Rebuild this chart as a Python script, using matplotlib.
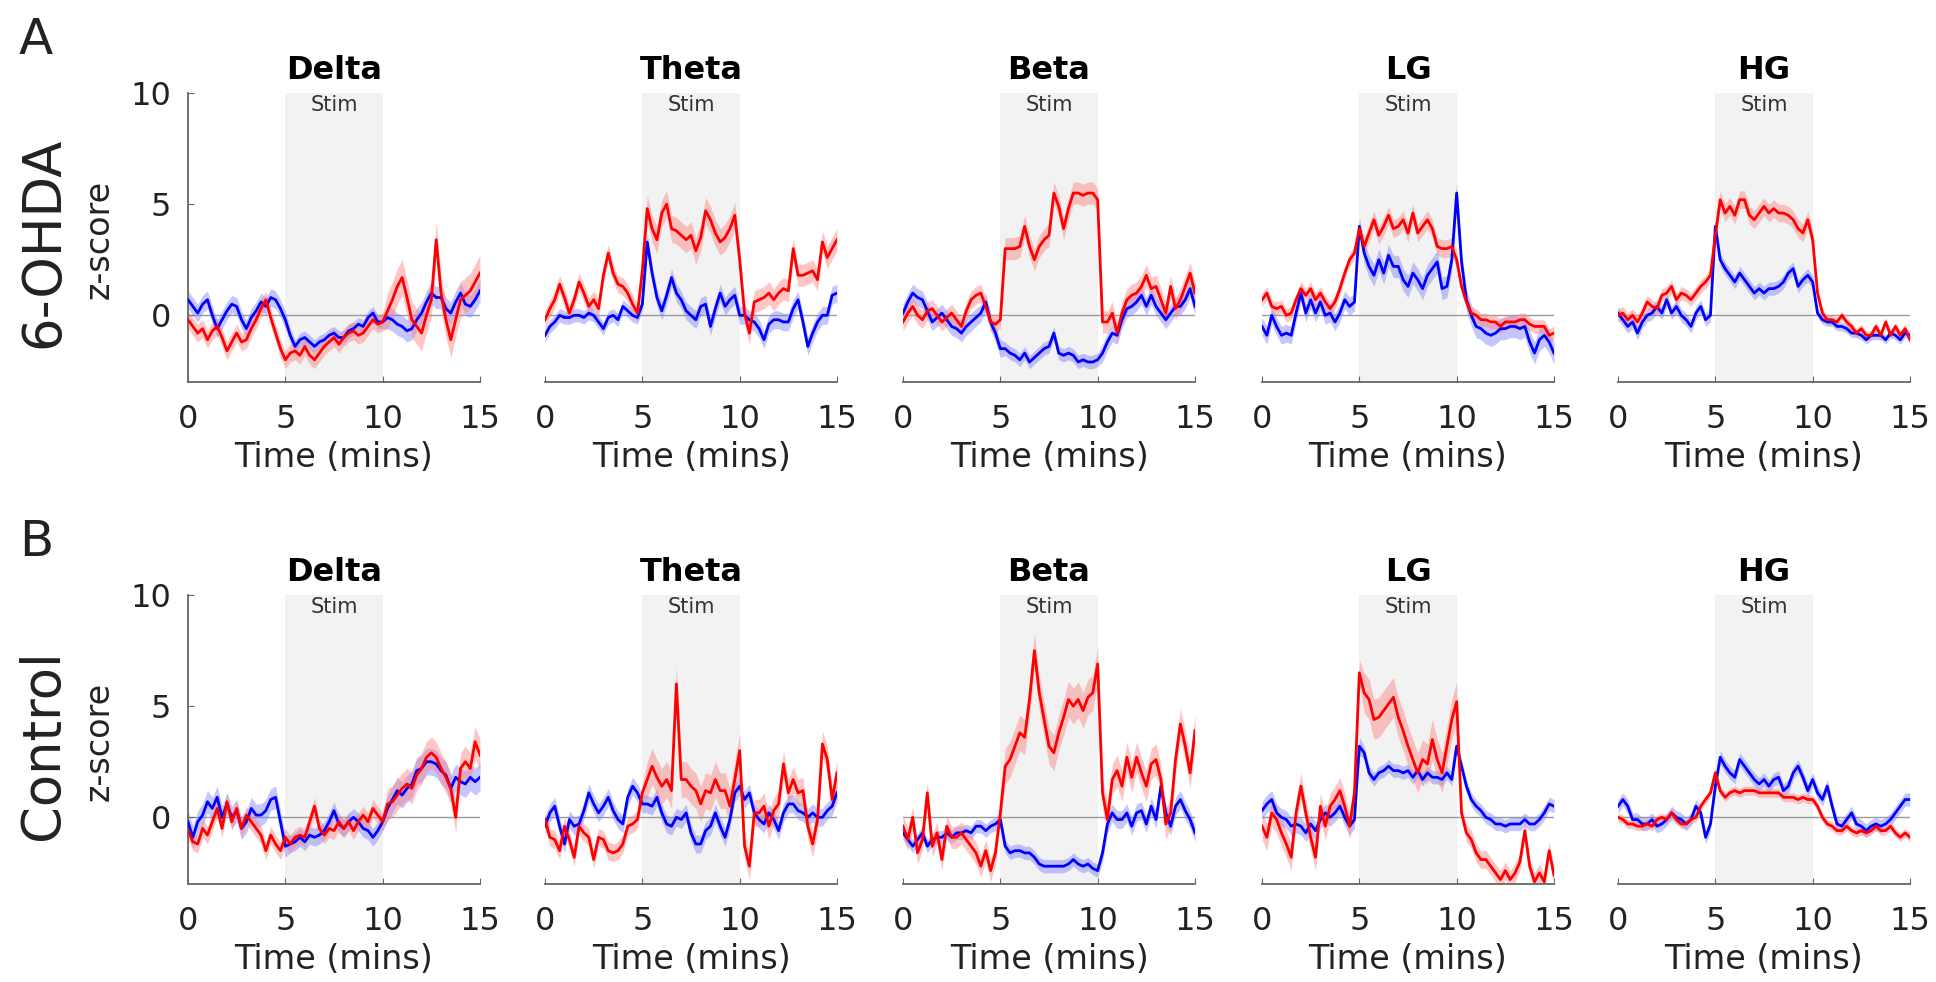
import numpy as np
import matplotlib.pyplot as plt

# Band names and group labels
bands = ['Delta', 'Theta', 'Beta', 'LG', 'HG']
groups = ['6-OHDA', 'Control']
panel_tags = ['A', 'B']

# z-score traces, one value every 15 s from 0 to 15 min (61 points)
# 6-OHDA
ohda_delta_red = [-0.2, -0.5, -0.8, -0.6, -1.1, -0.7, -0.5, -1.0, -1.6, -1.2, -0.8, -1.2, -1.1, -0.6, -0.2, 0.3, 0.7, -0.1, -0.8, -1.5,
                  -2.0, -1.7, -1.6, -1.8, -1.4, -1.8, -2.0, -1.7, -1.4, -1.2, -1.0, -1.3, -1.0, -0.8, -0.7, -0.9, -0.8, -0.5, -0.2, -0.4,
                  -0.3, 0.2, 0.7, 1.3, 1.7, 0.8, -0.2, -0.5, -0.8, 0.0, 0.7, 3.4, 1.0, -0.2, -1.1, -0.2, 0.7, 0.9, 1.1, 1.5, 1.9]
ohda_delta_blue = [0.7, 0.4, 0.1, 0.5, 0.7, 0.0, -0.6, -0.2, 0.2, 0.5, 0.4, -0.2, -0.6, -0.1, 0.2, 0.6, 0.4, 0.8, 0.7, 0.3,
                   -0.2, -0.9, -1.4, -1.1, -1.0, -1.2, -1.4, -1.2, -1.1, -0.9, -0.8, -1.0, -1.0, -0.7, -0.6, -0.4, -0.5, -0.1, 0.1, -0.3,
                   -0.3, -0.1, -0.2, -0.4, -0.5, -0.7, -0.6, -0.2, 0.1, 0.6, 1.0, 0.8, 0.8, 0.3, 0.1, 0.6, 1.0, 0.5, 0.4, 0.7, 1.1]
ohda_theta_red = [-0.2, 0.3, 0.7, 1.4, 0.8, 0.1, 0.7, 1.5, 1.0, 0.4, 0.7, 0.3, 1.8, 2.8, 1.9, 1.4, 1.3, 1.0, 0.5, 0.1,
                  2.0, 4.8, 3.9, 3.4, 4.6, 5.0, 3.9, 3.8, 3.6, 3.4, 3.6, 2.9, 3.5, 4.7, 4.3, 3.7, 3.3, 3.5, 3.9, 4.5,
                  2.5, 0.1, -0.8, 0.6, 0.7, 0.8, 1.0, 0.7, 1.0, 1.2, 1.1, 3.0, 1.8, 1.8, 1.9, 2.0, 1.6, 3.3, 2.6, 3.0, 3.4]
ohda_theta_blue = [-0.9, -0.5, -0.3, 0.0, -0.1, -0.1, 0.0, 0.0, -0.1, 0.1, 0.0, -0.3, -0.6, -0.1, 0.0, -0.2, 0.4, 0.2, 0.0, -0.1,
                   0.5, 3.3, 1.9, 0.8, 0.2, 0.9, 1.7, 1.0, 0.7, 0.2, 0.0, -0.2, 0.4, 0.5, -0.5, 0.3, 1.0, 0.4, 0.7, 0.9,
                   0.0, 0.0, -0.2, -0.3, -0.6, -1.1, -0.4, -0.2, -0.2, -0.3, -0.3, 0.3, 0.7, -0.3, -1.4, -0.8, -0.3, 0.0, 0.0, 0.9, 1.0]
ohda_beta_red = [-0.3, 0.1, 0.4, 0.0, -0.2, 0.2, 0.3, 0.0, -0.3, -0.1, 0.1, -0.2, -0.5, 0.2, 0.7, 0.9, 1.0, 0.4, -0.3, -0.4,
                 -0.2, 3.0, 3.0, 3.0, 3.1, 4.0, 3.1, 2.5, 3.1, 3.4, 3.6, 5.5, 4.9, 3.9, 4.8, 5.5, 5.5, 5.4, 5.5, 5.5,
                 5.2, -0.3, -0.3, 0.1, -0.8, 0.1, 0.7, 0.9, 1.0, 1.3, 1.8, 1.2, 1.3, 0.7, 0.1, 1.3, 0.3, 0.7, 1.3, 1.9, 1.0]
ohda_beta_blue = [0.1, 0.6, 1.0, 0.8, 0.7, 0.2, -0.3, -0.1, 0.1, -0.2, -0.5, -0.6, -0.8, -0.5, -0.3, -0.1, 0.1, 0.6, -0.3, -0.8,
                  -1.5, -1.5, -1.7, -1.8, -2.0, -1.7, -2.1, -1.9, -1.7, -1.5, -1.4, -0.8, -1.7, -1.8, -1.7, -1.8, -2.1, -2.0, -2.1, -2.1,
                  -2.0, -1.7, -1.2, -0.8, -0.9, -0.2, 0.3, 0.4, 0.6, 0.9, 0.4, 0.9, 0.4, 0.1, -0.2, 0.1, 0.4, 0.4, 0.7, 1.2, 0.4]
ohda_lg_red = [0.7, 1.0, 0.4, 0.3, 0.4, 0.0, 0.1, 0.7, 1.2, 0.9, 1.2, 0.7, 1.0, 0.6, 0.3, 0.6, 1.2, 1.9, 2.5, 2.8,
               3.9, 3.1, 3.7, 4.3, 3.6, 4.0, 4.5, 3.9, 4.0, 4.3, 3.7, 4.6, 3.7, 4.0, 4.3, 3.9, 3.1, 3.0, 3.0, 3.1,
               2.5, 1.3, 0.6, 0.1, 0.0, -0.2, -0.2, -0.3, -0.3, -0.5, -0.3, -0.3, -0.3, -0.2, -0.2, -0.4, -0.5, -0.5, -0.5, -0.9, -0.8]
ohda_lg_blue = [-0.5, -0.9, 0.0, -0.5, -0.9, -0.8, -0.9, 0.1, 1.0, 0.1, 0.7, 0.1, 0.6, 0.0, 0.1, -0.3, 0.1, 0.7, 0.4, 0.6,
                4.0, 2.8, 2.2, 1.8, 2.5, 1.9, 2.7, 2.2, 2.2, 1.6, 1.3, 1.9, 1.6, 1.2, 1.8, 2.1, 2.4, 1.2, 1.3, 2.5,
                5.5, 2.4, 0.7, 0.0, -0.5, -0.6, -0.8, -0.9, -0.8, -0.6, -0.6, -0.5, -0.5, -0.6, -0.5, -1.2, -1.7, -1.1, -0.9, -1.2, -1.7]
ohda_hg_red = [0.0, 0.1, -0.2, 0.0, -0.3, 0.1, 0.6, 0.4, 0.3, 0.9, 1.0, 1.3, 0.7, 1.0, 0.9, 0.7, 1.0, 1.3, 1.5, 1.8,
               3.6, 5.2, 4.6, 4.9, 4.5, 5.2, 5.2, 4.5, 4.3, 4.6, 4.9, 4.6, 4.8, 4.6, 4.6, 4.5, 4.3, 3.9, 3.7, 4.3,
               3.4, 1.0, 0.1, -0.2, -0.2, -0.3, 0.0, -0.3, -0.5, -0.8, -0.6, -0.9, -0.9, -0.5, -0.9, -0.3, -0.9, -0.5, -0.9, -0.6, -1.1]
ohda_hg_blue = [0.1, -0.2, -0.5, -0.3, -0.8, -0.3, 0.0, 0.1, 0.4, 0.1, 0.7, 0.1, 0.4, 0.0, -0.2, -0.5, 0.1, 0.4, -0.2, 0.0,
                4.0, 2.5, 2.1, 1.8, 1.5, 1.9, 1.6, 1.3, 1.0, 1.2, 1.0, 1.2, 1.2, 1.3, 1.5, 1.9, 2.1, 1.3, 1.6, 1.8,
                1.5, 0.1, -0.2, -0.3, -0.3, -0.5, -0.5, -0.6, -0.8, -0.8, -0.9, -1.1, -0.9, -0.9, -0.9, -1.1, -0.8, -0.9, -1.1, -0.8, -0.9]

# Control
ctrl_delta_red = [-0.6, -1.1, -1.2, -0.5, -0.8, -0.2, 0.4, -0.5, 0.7, -0.2, 0.4, -0.5, 0.1, -0.2, -0.5, -0.8, -1.5, -0.8, -1.2, -1.5,
                  -0.9, -1.2, -0.9, -0.8, -0.9, -0.2, 0.5, -0.5, -0.8, -0.5, -0.6, -0.2, -0.5, -0.2, -0.6, -0.2, 0.1, -0.2, 0.4, 0.1,
                  -0.2, 0.6, 0.7, 1.0, 1.3, 1.5, 1.3, 1.9, 2.2, 2.7, 2.9, 2.7, 2.2, 1.8, 1.3, 0.0, 2.2, 2.5, 2.2, 3.4, 2.8]
ctrl_delta_blue = [-0.2, -0.9, -0.2, 0.1, 0.7, 0.4, 0.9, 0.0, 0.6, 0.0, 0.3, -0.5, -0.2, 0.4, 0.1, 0.1, 0.3, 0.8, 0.9, -0.2,
                   -1.3, -1.2, -1.1, -0.9, -1.1, -0.8, -0.9, -0.8, -0.6, -0.2, 0.3, -0.3, -0.5, -0.2, 0.0, -0.2, -0.5, -0.6, -0.9, -0.6,
                   -0.2, 0.4, 0.8, 1.2, 1.0, 1.3, 1.5, 2.1, 2.2, 2.5, 2.5, 2.4, 2.1, 1.9, 1.3, 1.8, 1.6, 1.5, 1.8, 1.6, 1.8]
ctrl_theta_red = [-0.1, -0.9, -1.0, -1.5, -0.4, -1.0, -1.8, -0.4, -0.7, -0.9, -1.9, -0.9, -1.0, -1.5, -1.6, -1.5, -1.2, -0.4, -0.3, -0.1,
                  1.1, 1.7, 2.3, 1.8, 1.4, 1.7, 1.2, 6.0, 1.7, 1.7, 1.4, 1.2, 0.6, 1.2, 1.1, 1.7, 1.2, 1.2, 0.5, 1.7,
                  3.0, -1.3, -2.2, 0.2, 0.2, 0.5, -0.4, 0.3, 0.6, 2.4, 1.1, 1.7, 1.1, 1.2, -0.4, -1.2, -0.1, 3.3, 2.6, 0.8, 2.0]
ctrl_theta_blue = [-0.4, 0.2, 0.5, -0.4, -1.2, -0.1, -0.4, -0.3, 0.3, 1.1, 0.6, 0.2, 0.5, 0.9, 0.3, -0.1, -0.3, 0.9, 1.4, 1.1,
                   0.6, 0.6, 0.5, 0.9, 0.2, -0.3, -0.4, 0.0, -0.1, 0.2, -0.7, -1.2, -1.2, -0.6, -0.4, 0.2, -0.4, -0.9, -0.1, 1.1,
                   1.4, 0.8, 1.1, 0.2, -0.1, -0.3, 0.2, -0.1, -0.6, 0.2, 0.6, 0.6, 0.3, 0.2, 0.0, 0.2, 0.0, 0.0, 0.3, 0.5, 1.1]
ctrl_beta_red = [-0.4, -1.0, 0.0, -1.6, -1.0, 1.1, -1.3, -0.7, -1.9, -0.4, -0.9, -0.9, -0.7, -1.0, -1.3, -1.6, -2.2, -1.5, -2.4, -1.6,
                 0.2, 2.3, 2.6, 3.2, 3.8, 3.6, 5.3, 7.5, 5.6, 4.4, 3.2, 2.9, 3.8, 4.5, 5.3, 5.0, 5.3, 4.8, 5.4, 5.6,
                 6.9, 1.1, -0.1, 1.7, 2.1, 1.4, 2.7, 1.8, 2.7, 2.0, 1.4, 2.4, 2.6, 1.7, -0.3, 0.2, 2.6, 4.2, 3.2, 2.0, 3.9]
ctrl_beta_blue = [-0.7, -1.0, -1.3, -1.0, -0.7, -1.3, -1.0, -0.9, -0.9, -0.7, -0.9, -0.7, -0.7, -0.6, -0.7, -0.4, -0.4, -0.6, -0.4, -0.3,
                  -0.1, -1.3, -1.6, -1.5, -1.5, -1.6, -1.6, -1.8, -2.1, -2.2, -2.2, -2.2, -2.2, -2.2, -2.1, -1.9, -2.1, -2.2, -2.1, -2.3,
                  -2.4, -1.6, -0.3, 0.2, -0.1, -0.1, 0.2, -0.4, 0.2, 0.3, -0.3, 0.5, -0.1, 1.4, 0.2, -0.4, 0.5, 0.8, 0.3, -0.1, -0.7]
ctrl_lg_red = [-0.4, -0.9, 0.2, -0.1, -0.7, -1.2, -1.8, 0.2, 1.4, 0.2, -0.9, -1.8, 0.5, -0.4, 0.5, 0.8, 1.2, 0.5, -0.4, 1.1,
               6.5, 5.6, 5.3, 4.4, 4.5, 4.8, 5.1, 5.4, 4.5, 3.9, 3.2, 2.6, 2.0, 2.6, 2.4, 3.5, 2.6, 2.0, 3.2, 4.4,
               5.2, 0.2, -0.7, -1.0, -1.6, -1.9, -1.9, -2.2, -2.5, -2.8, -2.4, -2.8, -2.5, -2.0, -0.6, -2.2, -2.9, -2.5, -2.9, -1.5, -2.6]
ctrl_lg_blue = [0.3, 0.6, 0.8, 0.2, 0.0, -0.1, -0.4, -0.3, -0.4, -0.7, -0.3, -0.6, -0.1, 0.2, 0.0, 0.2, 0.5, 0.0, -0.4, -0.1,
                3.2, 2.9, 2.0, 1.7, 2.0, 2.1, 2.3, 2.1, 2.1, 2.0, 2.1, 1.8, 2.1, 1.7, 2.0, 1.8, 1.8, 1.7, 2.0, 1.7,
                3.2, 2.3, 1.4, 0.8, 0.5, 0.3, 0.0, -0.1, -0.3, -0.3, -0.4, -0.3, -0.3, -0.3, -0.1, -0.3, -0.3, -0.1, 0.2, 0.6, 0.5]
ctrl_hg_red = [0.0, -0.1, -0.3, -0.3, -0.4, -0.4, -0.3, -0.4, -0.1, 0.0, -0.1, 0.2, -0.1, -0.3, -0.3, -0.1, 0.0, 0.5, 0.8, 1.1,
               2.0, 1.2, 0.9, 1.1, 1.2, 1.1, 1.2, 1.2, 1.2, 1.1, 1.1, 1.1, 1.1, 1.1, 0.9, 0.9, 0.9, 0.8, 0.9, 0.8,
               0.8, 0.5, 0.0, -0.3, -0.4, -0.6, -0.6, -0.4, -0.6, -0.7, -0.6, -0.7, -0.6, -0.4, -0.6, -0.6, -0.4, -0.7, -0.9, -0.7, -0.9]
ctrl_hg_blue = [0.5, 0.8, 0.5, -0.1, -0.1, -0.3, -0.3, -0.1, -0.4, -0.3, -0.1, 0.2, 0.0, -0.1, -0.3, -0.1, 0.5, 0.2, -0.9, -0.3,
                1.4, 2.7, 2.3, 2.0, 1.8, 2.6, 2.3, 2.0, 1.7, 1.5, 1.7, 1.4, 1.7, 1.8, 1.2, 1.4, 2.0, 2.3, 1.8, 1.2,
                1.7, 1.1, 0.8, 1.4, 0.5, -0.3, -0.4, -0.1, 0.2, -0.3, -0.4, -0.6, -0.4, -0.3, -0.4, -0.3, -0.1, 0.2, 0.5, 0.8, 0.8]

# SEM half-widths read for pre / stim / post periods
sem_ohda_red = [[0.4, 0.4, 0.8], [0.4, 0.6, 0.5], [0.4, 0.5, 0.5], [0.3, 0.4, 0.3], [0.3, 0.4, 0.2]]
sem_ohda_blue = [[0.4, 0.3, 0.5], [0.3, 0.4, 0.4], [0.4, 0.3, 0.4], [0.4, 0.5, 0.5], [0.3, 0.3, 0.2]]
sem_ctrl_red = [[0.4, 0.4, 0.7], [0.4, 0.8, 0.6], [0.5, 0.8, 0.7], [0.6, 0.9, 0.4], [0.2, 0.2, 0.2]]
sem_ctrl_blue = [[0.5, 0.4, 0.6], [0.4, 0.4, 0.4], [0.3, 0.3, 0.4], [0.4, 0.3, 0.3], [0.3, 0.3, 0.3]]
seg_len = [21, 20, 20]

red_rows = [[ohda_delta_red, ohda_theta_red, ohda_beta_red, ohda_lg_red, ohda_hg_red],
            [ctrl_delta_red, ctrl_theta_red, ctrl_beta_red, ctrl_lg_red, ctrl_hg_red]]
blue_rows = [[ohda_delta_blue, ohda_theta_blue, ohda_beta_blue, ohda_lg_blue, ohda_hg_blue],
             [ctrl_delta_blue, ctrl_theta_blue, ctrl_beta_blue, ctrl_lg_blue, ctrl_hg_blue]]
red_sem = [sem_ohda_red, sem_ctrl_red]
blue_sem = [sem_ohda_blue, sem_ctrl_blue]

# Layout in pixels of the 1936x982 figure
W, H = 1936, 982
col_left = [188, 545, 903, 1262, 1618]
row_top = [93, 595]
ax_w, ax_h = 292, 289
font_size = 23
axis_col = '#666666'
text_col = '#222222'

fig = plt.figure(figsize=(W / 100, H / 100), dpi=100)

for r in range(2):
	for c in range(5):
		ax = fig.add_axes([col_left[c] / W, 1 - (row_top[r] + ax_h) / H, ax_w / W, ax_h / H])
		ax.axvspan(5, 10, color='#f2f2f2', lw=0, zorder=0)
		ax.axhline(0, color='#9a9a9a', lw=1.0, zorder=1)

		for y, sem, col, fc in [(blue_rows[r][c], blue_sem[r][c], '#0000ff', '#7f7fff'),
		                        (red_rows[r][c], red_sem[r][c], '#ff0000', '#ff7f7f')]:
			y = np.array(y)
			t = np.linspace(0, 15, len(y))
			s = np.repeat(sem, seg_len)
			ax.fill_between(t, y - s, y + s, color=fc, alpha=0.45, lw=0, zorder=2)
			ax.plot(t, y, color=col, lw=2.0, zorder=3)

		ax.set_xlim(0, 15)
		ax.set_ylim(-3, 10)
		for side in ['top', 'right']:
			ax.spines[side].set_visible(False)
		ax.spines['bottom'].set_color(axis_col)
		ax.spines['bottom'].set_linewidth(1.3)
		ax.set_xticks([0, 5, 10, 15])
		ax.tick_params(axis='x', direction='in', length=4, color=axis_col,
		               labelsize=font_size, labelcolor=text_col, pad=16)
		if c == 0:
			ax.spines['left'].set_color(axis_col)
			ax.spines['left'].set_linewidth(1.3)
			ax.set_yticks([0, 5, 10])
			ax.tick_params(axis='y', direction='in', length=4, color=axis_col,
			               labelsize=font_size, labelcolor=text_col, pad=12)
		else:
			ax.spines['left'].set_visible(False)
			ax.set_yticks([])

		ax.set_xlabel('Time (mins)', fontsize=24, color=text_col, labelpad=4)
		ax.set_title(bands[c], fontsize=font_size, fontweight='bold', pad=10)
		ax.text(7.5, 9.45, 'Stim', ha='center', va='center', fontsize=15, color='#333333')

	# Row labels
	yc = row_top[r] + ax_h / 2
	fig.text(43 / W, 1 - (yc + 5) / H, groups[r], rotation=90, ha='center', va='center',
	         fontsize=38, color=text_col)
	fig.text(99 / W, 1 - (yc + 2) / H, 'z-score', rotation=90, ha='center', va='center',
	         fontsize=24, color=text_col)
	fig.text(36 / W, 1 - (row_top[r] - 53) / H, panel_tags[r], ha='center', va='center',
	         fontsize=36, color=text_col)

plt.savefig('out.png', dpi=100)
